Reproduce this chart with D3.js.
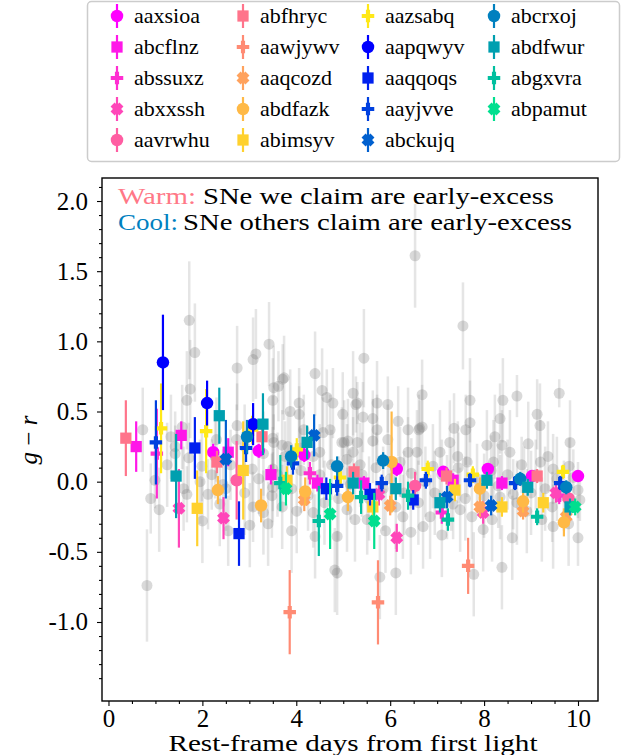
<!DOCTYPE html>
<html>
<head>
<meta charset="utf-8">
<script src="https://cdn.jsdelivr.net/npm/d3@7"></script>
<style>
  body { margin: 0; background: #fff; }
  text { font-family: "Liberation Serif", "DejaVu Serif", serif; }
</style>
</head>
<body>
<div id="chart"></div>
<script>
'use strict';

// SN names in legend order (warm = ours, cool = others)
const warmNames = ['aaxsioa','abcflnz','abssuxz','abxxssh','aavrwhu','abfhryc','aawjywv','aaqcozd','abdfazk','abimsyv','aazsabq'];
const coolNames = ['aapqwyv','aaqqoqs','aayjvve','abckujq','abcrxoj','abdfwur','abgxvra','abpamut'];
const markerCycleWarm = ['o','s','P','X','o','s','P','X','o','s','P'];
const markerCycleCool = ['o','s','P','X','o','s','P','X'];

// [day, g-r, err] per SN
const snPoints = {
  aaxsioa: [[2.23,0.21,0.06],[3.2,0.22,0.05],[4.17,0.19,0.05],[6.14,0.09,0.05],[7.13,0.07,0.04],[8.08,0.09,0.04],[9.02,0.04,0.04],[10.0,0.04,0.04]],
  abcflnz: [[0.59,0.25,0.18],[1.55,0.33,0.1],[2.55,0.21,0.1],[3.46,0.05,0.07],[4.45,-0.01,0.06],[5.44,-0.01,0.05],[7.34,0.01,0.05],[8.38,-0.01,0.05]],
  abssuxz: [[1.03,0.2,0.32],[4.29,0.06,0.08],[7.1,-0.22,0.08],[9.6,-0.1,0.06]],
  abxxssh: [[1.5,-0.19,0.28],[2.45,-0.26,0.15],[5.76,-0.09,0.08],[6.14,-0.4,0.1],[7.98,-0.22,0.08],[9.53,-0.08,0.07]],
  aavrwhu: [[2.73,0.01,0.28],[6.53,-0.03,0.1],[9.8,-0.12,0.08]],
  abfhryc: [[0.37,0.31,0.27],[2.31,0.14,0.08],[3.27,0.32,0.1],[5.23,0.07,0.06],[7.2,0.04,0.06],[9.13,0.04,0.05]],
  aawjywv: [[3.86,-0.93,0.3],[5.74,-0.86,0.3],[7.66,-0.6,0.2]],
  aaqcozd: [[4.17,-0.13,0.08],[6.0,-0.17,0.07],[7.91,-0.18,0.07],[8.83,-0.21,0.06],[9.75,-0.25,0.06]],
  abdfazk: [[2.33,-0.06,0.1],[3.25,-0.17,0.12],[4.19,-0.07,0.1],[5.1,-0.11,0.1],[6.03,0.14,0.36],[7.91,-0.05,0.08],[8.83,-0.14,0.08],[9.7,-0.29,0.1]],
  abimsyv: [[1.89,-0.19,0.27],[2.87,0.08,0.35],[3.8,0.01,0.1],[5.63,-0.18,0.1],[7.38,-0.06,0.08],[8.38,-0.18,0.07],[9.26,-0.15,0.07]],
  aazsabq: [[1.12,0.38,0.32],[2.08,0.36,0.3],[3.06,0.37,0.1],[4.01,0.23,0.08],[4.93,0.03,0.07],[6.8,0.09,0.06],[7.76,0.05,0.06],[9.68,0.07,0.05]],
  aapqwyv: [[1.16,0.85,0.34],[2.1,0.56,0.16],[3.08,0.41,0.15]],
  aaqqoqs: [[1.84,0.24,0.22],[2.78,-0.37,0.23],[4.64,-0.05,0.08],[5.57,-0.09,0.08],[6.49,-0.13,0.07]],
  aayjvve: [[1.01,0.28,0.3],[2.93,0.24,0.1],[3.93,0.13,0.08],[4.87,-0.03,0.07],[5.82,-0.01,0.06],[6.76,0.01,0.06],[7.7,0.01,0.05],[8.66,-0.01,0.05],[9.62,-0.01,0.05]],
  abckujq: [[2.5,0.16,0.28],[4.38,0.33,0.15],[7.21,-0.11,0.08],[8.15,-0.17,0.07]],
  abcrxoj: [[2.95,0.32,0.12],[3.89,0.18,0.08],[4.87,0.11,0.07],[5.85,0.15,0.06],[8.77,0.02,0.05],[9.75,-0.04,0.05]],
  abdfwur: [[1.44,0.04,0.3],[2.36,0.47,0.2],[3.29,0.41,0.22],[4.23,0.28,0.12],[5.21,-0.01,0.08],[6.12,-0.05,0.08],[7.06,-0.15,0.07],[8.06,0.01,0.06],[8.93,-0.04,0.06],[9.83,-0.18,0.06]],
  abgxvra: [[3.66,-0.01,0.2],[4.48,-0.28,0.25],[5.38,-0.11,0.12],[6.38,-0.1,0.1],[7.23,-0.27,0.08],[9.13,-0.25,0.06]],
  abpamut: [[3.78,-0.05,0.12],[4.72,-0.23,0.25],[5.66,-0.28,0.2],[9.94,-0.18,0.06]]
};

// background sample [day, g-r, err]
const grayPoints = [
  [6.53,1.61,0.37],[7.55,1.11,0.31],[1.72,1.15,0.42],[1.84,0.92,0.35],[2.74,0.81,0.3],[3.08,0.87,0.3],
  [3.14,0.91,0.32],[3.42,0.98,0.3],[3.74,0.74,0.3],[3.71,0.73,0.25],[4.4,0.77,0.3],[3.52,0.67,0.3],
  [3.62,0.68,0.25],[4.55,0.65,0.3],[4.06,0.56,0.25],[4.78,0.56,0.25],[3.5,0.58,0.3],[1.67,0.58,0.35],
  [1.74,0.66,0.35],[3.87,0.5,0.3],[4.06,0.48,0.2],[4.99,0.48,0.3],[5.27,0.55,0.2],[0.73,0.37,0.3],
  [5.44,0.88,0.35],[5.72,0.56,0.3],[5.95,0.55,0.2],[6.68,0.62,0.25],[7.7,0.58,0.3],[8.4,0.58,0.3],
  [8.7,0.61,0.15],[9.6,0.63,0.1],[9.13,0.48,0.25],[9.19,0.4,0.3],[5.42,0.46,0.25],[5.63,0.45,0.2],
  [6.17,0.43,0.25],[6.63,0.38,0.2],[7.36,0.38,0.25],[8.34,0.45,0.25],[4.65,0.6,0.2],[5.3,0.56,0.15],
  [5.21,0.63,0.3],[3.82,0.25,0.25],[4.5,0.21,0.2],[4.97,0.28,0.25],[3.52,0.28,0.2],[2.74,0.4,0.3],
  [1.33,0.32,0.3],[1.42,0.25,0.25],[1.57,0.39,0.3],[0.99,0.01,0.2],[1.08,-0.2,0.3],[1.42,0.2,0.2],
  [1.71,0.17,0.25],[1.95,0.0,0.3],[1.99,0.11,0.25],[1.67,-0.09,0.2],[2.12,-0.09,0.25],[2.73,0.3,0.25],
  [2.27,0.18,0.3],[3.06,0.09,0.3],[3.08,-0.18,0.25],[3.01,-0.31,0.3],[3.48,-0.1,0.3],[3.5,-0.04,0.25],
  [3.7,-0.18,0.3],[4.01,-0.21,0.3],[4.36,-0.22,0.25],[4.4,-0.39,0.3],[4.87,-0.39,0.3],[4.82,-0.63,0.3],
  [4.72,0.37,0.25],[5.1,0.29,0.3],[5.21,0.21,0.25],[5.08,-0.2,0.3],[4.16,0.37,0.25],[4.57,0.35,0.25],
  [3.7,0.26,0.25],[3.5,0.31,0.3],[3.76,0.18,0.25],[3.5,0.09,0.3],[4.08,0.24,0.3],[4.36,0.18,0.2],
  [2.37,-0.16,0.3],[2.44,-0.02,0.25],[5.02,0.28,0.3],[5.3,0.28,0.25],[5.63,0.29,0.3],[5.72,0.37,0.25],
  [5.95,0.3,0.25],[6.38,0.37,0.3],[6.61,0.37,0.25],[6.68,0.39,0.3],[7.61,0.37,0.25],[7.7,0.42,0.3],
  [8.23,0.32,0.3],[8.38,0.26,0.25],[8.94,0.27,0.3],[9.83,0.28,0.3],[8.06,0.26,0.25],[7.27,0.28,0.3],
  [6.57,0.21,0.3],[6.38,0.21,0.25],[7.06,0.21,0.3],[7.44,0.18,0.25],[8.55,0.21,0.3],[9.36,0.18,0.25],
  [9.81,0.11,0.2],[5.08,0.16,0.25],[5.36,0.12,0.3],[6.21,0.14,0.25],[6.91,0.11,0.3],[7.64,0.14,0.25],
  [8.2,0.14,0.3],[8.8,0.12,0.2],[9.2,0.14,0.3],[9.47,0.09,0.25],[10.0,-0.06,0.2],[10.04,-0.13,0.15],
  [10.0,-0.4,0.2],[9.47,-0.32,0.3],[9.23,-0.27,0.3],[8.91,-0.21,0.3],[8.62,-0.09,0.25],[8.34,-0.11,0.3],
  [8.17,-0.27,0.3],[7.98,-0.34,0.3],[7.74,-0.25,0.3],[7.49,-0.2,0.3],[7.34,-0.16,0.25],[7.21,-0.11,0.3],
  [6.85,-0.25,0.3],[6.7,-0.32,0.3],[6.44,-0.36,0.3],[6.27,-0.25,0.3],[6.12,-0.18,0.3],[5.51,-0.27,0.25],
  [5.25,-0.27,0.3],[5.78,-0.68,0.3],[6.12,-0.65,0.3],[8.38,-0.61,0.3],[7.78,-0.66,0.3],[4.87,-0.65,0.3],
  [0.82,-0.74,0.4],[2.2,0.05,0.25],[2.5,-0.05,0.3],[2.6,0.12,0.25],[2.9,-0.08,0.3],[3.2,0.02,0.25],
  [3.3,-0.22,0.3],[3.6,0.05,0.3],[3.9,-0.05,0.25],[4.1,0.08,0.3],[4.25,-0.1,0.25],[4.5,0.05,0.3],
  [4.6,-0.15,0.3],[4.75,0.12,0.25],[4.9,-0.12,0.3],[5.15,-0.02,0.25],[5.4,0.05,0.3],[5.55,-0.12,0.3],
  [5.7,0.1,0.25],[5.85,-0.05,0.3],[6.0,0.02,0.25],[6.3,-0.08,0.3],[6.45,0.06,0.25],[6.6,-0.15,0.3],
  [6.75,0.0,0.25],[6.95,-0.08,0.3],[7.1,0.05,0.25],[7.3,-0.05,0.3],[7.45,0.1,0.25],[7.6,-0.12,0.3],
  [7.85,0.02,0.25],[8.0,-0.1,0.3],[8.15,0.08,0.25],[8.3,-0.03,0.3],[8.5,0.05,0.25],[8.7,-0.15,0.3],
  [8.85,0.0,0.25],[9.0,-0.08,0.3],[9.1,0.05,0.25],[9.3,-0.05,0.3],[9.45,-0.18,0.25],[9.55,0.02,0.3],
  [9.7,-0.1,0.25],[9.9,0.03,0.2],[2.0,-0.28,0.3],[2.55,-0.35,0.25],[3.4,-0.3,0.3],[3.9,-0.35,0.3],
  [5.9,-0.35,0.3],[7.1,-0.38,0.3],[8.6,-0.4,0.3],[9.8,-0.3,0.3],[2.3,0.3,0.3],[2.9,0.25,0.3],
  [3.3,0.2,0.3],[1.6,-0.05,0.3],[1.25,0.12,0.3],[0.9,-0.12,0.25]
];

const xTicks = [0, 2, 4, 6, 8, 10];
const yTicks = [-1.0, -0.5, 0.0, 0.5, 1.0, 1.5, 2.0];

const W = 634, H = 755;
const plot = {left: 102, right: 598, top: 178, bottom: 701};

const svg = d3.select("#chart").append("svg")
  .attr("width", W)
  .attr("height", H);

const x = d3.scaleLinear().domain([-0.138, 10.426]).range([plot.left, plot.right]);
const y = d3.scaleLinear().domain([-1.563, 2.164]).range([plot.bottom, plot.top]);

// colours: spring for warm, winter for cool
const spring = t => d3.rgb(255, Math.round(255*t), Math.round(255*(1-t))).formatHex();
const winter = t => d3.rgb(0, Math.round(255*t), Math.round(255*(1-t/2))).formatHex();

const series = [];
warmNames.forEach((n,i) => series.push({name: n, color: spring(i/11), marker: markerCycleWarm[i]}));
coolNames.forEach((n,i) => series.push({name: n, color: winter(i/8), marker: markerCycleCool[i]}));

// marker path of a given kind, size s = full extent in px
function markerPath(kind, s) {
  const h = s/2;
  if (kind === 'o') {
    return d3.symbol(d3.symbolCircle, Math.PI*h*h)();
  }
  if (kind === 's') {
    const a = h*0.9;
    return `M${-a},${-a}H${a}V${a}H${-a}Z`;
  }
  const u = h/3;
  let pts = [[-1,-3],[1,-3],[1,-1],[3,-1],[3,1],[1,1],[1,3],[-1,3],[-1,1],[-3,1],[-3,-1],[-1,-1]]
    .map(p => [p[0]*u, p[1]*u]);
  if (kind === 'X') {
    // thicker arms, turned 45 degrees
    const v = h/2.6;
    pts = [[-1.2,-2.6],[1.2,-2.6],[1.2,-1.2],[2.6,-1.2],[2.6,1.2],[1.2,1.2],[1.2,2.6],[-1.2,2.6],[-1.2,1.2],[-2.6,1.2],[-2.6,-1.2],[-1.2,-1.2]]
      .map(p => [p[0]*v, p[1]*v]);
    const c = Math.SQRT1_2;
    pts = pts.map(p => [(p[0]-p[1])*c, (p[0]+p[1])*c]);
  }
  return "M" + pts.map(p => p[0].toFixed(2) + "," + p[1].toFixed(2)).join("L") + "Z";
}

const g = svg.append("g");

// clip to axes area
svg.append("clipPath").attr("id", "clip")
  .append("rect")
  .attr("x", plot.left).attr("y", plot.top)
  .attr("width", plot.right - plot.left).attr("height", plot.bottom - plot.top);

const pg = g.append("g").attr("clip-path", "url(#clip)");

// gray background sample
pg.append("g").selectAll("line")
  .data(grayPoints)
  .enter()
  .append("line")
  .attr("x1", d => x(d[0])).attr("x2", d => x(d[0]))
  .attr("y1", d => y(d[1]-d[2])).attr("y2", d => y(d[1]+d[2]))
  .style("stroke", "#808080")
  .style("stroke-width", 2.5)
  .style("opacity", 0.2);

pg.append("g").selectAll("circle")
  .data(grayPoints)
  .enter()
  .append("circle")
  .attr("cx", d => x(d[0])).attr("cy", d => y(d[1]))
  .attr("r", 5.5)
  .style("fill", "#808080")
  .style("opacity", 0.3);

// coloured SNe
series.forEach(function(s){
  const pts = snPoints[s.name];
  const sg = pg.append("g");
  sg.selectAll("line")
    .data(pts)
    .enter()
    .append("line")
    .attr("x1", d => x(d[0])).attr("x2", d => x(d[0]))
    .attr("y1", d => y(d[1]-d[2])).attr("y2", d => y(d[1]+d[2]))
    .style("stroke", s.color)
    .style("stroke-width", 2.2);
  sg.selectAll("path")
    .data(pts)
    .enter()
    .append("path")
    .attr("d", markerPath(s.marker, 12.5))
    .attr("transform", d => "translate(" + x(d[0]) + "," + y(d[1]) + ")")
    .style("fill", s.color);
});

// axes frame
g.append("rect")
  .attr("x", plot.left).attr("y", plot.top)
  .attr("width", plot.right - plot.left).attr("height", plot.bottom - plot.top)
  .style("fill", "none")
  .style("stroke", "#000")
  .style("stroke-width", 1.4);

// x axis
const xAxis = g.append("g")
  .attr("transform", "translate(0," + plot.bottom + ")")
  .call(d3.axisBottom(x).tickValues(xTicks).tickSize(5).tickPadding(3).tickFormat(d3.format("d")));
g.append("g")
  .attr("transform", "translate(0," + plot.bottom + ")")
  .call(d3.axisBottom(x).tickValues(d3.range(0, 10.01, 0.5).filter(v => v % 2 !== 0)).tickSize(3).tickFormat(""))
  .select(".domain").remove();

// y axis
const yAxis = g.append("g")
  .attr("transform", "translate(" + plot.left + ",0)")
  .call(d3.axisLeft(y).tickValues(yTicks).tickSize(5).tickPadding(9).tickFormat(d3.format(".1f")));
g.append("g")
  .attr("transform", "translate(" + plot.left + ",0)")
  .call(d3.axisLeft(y).tickValues(d3.range(-15, 22).map(v => v/10).filter(v => Math.abs(v*10) % 5 !== 0)).tickSize(3).tickFormat(""))
  .select(".domain").remove();

g.selectAll(".domain").remove();
g.selectAll(".tick line").style("stroke", "#000").style("stroke-width", 1.1);
g.selectAll(".tick text").attr("font-family", null).attr("fill", "#000");
xAxis.selectAll("text").style("font-size", "25px");
yAxis.selectAll("text").style("font-size", "25px")
  .text(d => d3.format(".1f")(d).replace("−", "-"));

// axis labels
svg.append("text")
  .attr("x", (plot.left + plot.right)/2 + 3)
  .attr("y", 751)
  .attr("text-anchor", "middle")
  .attr("textLength", 369)
  .attr("lengthAdjust", "spacingAndGlyphs")
  .style("font-size", "24px")
  .text("Rest-frame days from first light");

svg.append("text")
  .attr("transform", "translate(37," + 440 + ") rotate(-90)")
  .attr("text-anchor", "middle")
  .style("font-size", "25px")
  .html('<tspan font-style="italic">g</tspan> − <tspan font-style="italic">r</tspan>');

// annotation
const note = svg.append("g").style("font-size", "24px");
note.append("text").attr("x", 118).attr("y", 204)
  .attr("textLength", 78).attr("lengthAdjust", "spacingAndGlyphs")
  .attr("fill", spring(0.47)).text("Warm:");
note.append("text").attr("x", 203).attr("y", 204)
  .attr("textLength", 351).attr("lengthAdjust", "spacingAndGlyphs")
  .attr("fill", "#000").text("SNe we claim are early-excess");
note.append("text").attr("x", 118).attr("y", 230)
  .attr("textLength", 60).attr("lengthAdjust", "spacingAndGlyphs")
  .attr("fill", winter(0.5)).text("Cool:");
note.append("text").attr("x", 183).attr("y", 230)
  .attr("textLength", 389).attr("lengthAdjust", "spacingAndGlyphs")
  .attr("fill", "#000").text("SNe others claim are early-excess");

// legend
const leg = svg.append("g");
leg.append("rect")
  .attr("x", 87.5).attr("y", 1.5)
  .attr("width", 532).attr("height", 160)
  .attr("rx", 4)
  .style("fill", "#fff")
  .style("stroke", "#cccccc")
  .style("stroke-width", 1.5);

const colX = [117, 243, 368, 494];
const rowY = [16, 47, 78, 109, 140];
const legItems = series.map((s, i) => {
  let col, row;
  if (i < 5) { col = 0; row = i; }
  else if (i < 10) { col = 1; row = i - 5; }
  else if (i < 15) { col = 2; row = i - 10; }
  else { col = 3; row = i - 15; }
  return Object.assign({col: col, row: row}, s);
});

const li = leg.selectAll("g.item")
  .data(legItems)
  .enter()
  .append("g")
  .attr("class", "item")
  .attr("transform", d => "translate(" + colX[d.col] + "," + rowY[d.row] + ")");
li.append("line")
  .attr("y1", -12).attr("y2", 12)
  .style("stroke", d => d.color)
  .style("stroke-width", 2.2);
li.append("path")
  .attr("d", d => markerPath(d.marker, 12.5))
  .style("fill", d => d.color);
li.append("text")
  .attr("x", 17)
  .attr("y", 7)
  .style("font-size", "22px")
  .text(d => d.name);
</script>
</body>
</html>
